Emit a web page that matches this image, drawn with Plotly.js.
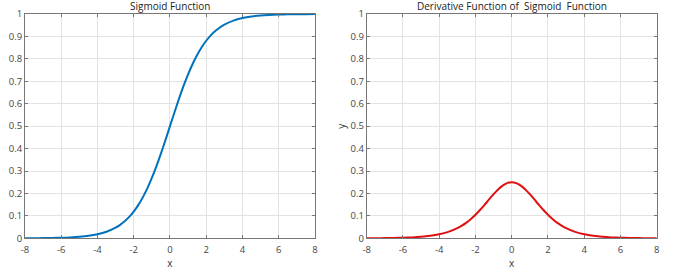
<!DOCTYPE html>
<html>
<head>
<meta charset="utf-8">
<script src="https://cdn.plot.ly/plotly-3.0.1.min.js"></script>
<style>html,body{margin:0;padding:0;background:#fff;}#chart{width:673px;height:274px;}</style>
</head>
<body>
<div id="chart"></div>
<script>
const xValues = [-8,-7.5,-7,-6.5,-6,-5.5,-5,-4.5,-4,-3.5,-3,-2.75,-2.5,-2.25,-2,-1.75,-1.5,-1.25,-1,-0.75,-0.5,-0.25,0,0.25,0.5,0.75,1,1.25,1.5,1.75,2,2.25,2.5,2.75,3,3.5,4,4.5,5,5.5,6,6.5,7,7.5,8];
const sigmoidValues = [0.0003,0.0006,0.0009,0.0015,0.0025,0.0041,0.0067,0.0110,0.0180,0.0293,0.0474,0.0601,0.0759,0.0953,0.1192,0.1480,0.1824,0.2227,0.2689,0.3208,0.3775,0.4378,0.5,0.5622,0.6225,0.6792,0.7311,0.7773,0.8176,0.8520,0.8808,0.9047,0.9241,0.9399,0.9526,0.9707,0.9820,0.9890,0.9933,0.9959,0.9975,0.9985,0.9991,0.9994,0.9997];
const derivativeValues = [0.0003,0.0006,0.0009,0.0015,0.0025,0.0041,0.0066,0.0109,0.0177,0.0285,0.0452,0.0565,0.0701,0.0862,0.1050,0.1261,0.1491,0.1731,0.1966,0.2179,0.2350,0.2461,0.25,0.2461,0.2350,0.2179,0.1966,0.1731,0.1491,0.1261,0.1050,0.0862,0.0701,0.0565,0.0452,0.0285,0.0177,0.0109,0.0066,0.0041,0.0025,0.0015,0.0009,0.0006,0.0003];
const xTicks = [-8,-6,-4,-2,0,2,4,6,8];
const yTicks = [0,0.1,0.2,0.3,0.4,0.5,0.6,0.7,0.8,0.9,1];
const yTickText = ['0','0.1','0.2','0.3','0.4','0.5','0.6','0.7','0.8','0.9','1'];
const titles = ['Sigmoid Function', 'Derivative Function of  Sigmoid  Function'];

const fontFam = 'Open Sans, sans-serif';
function xax(domain, anchor){
  return {domain: domain, anchor: anchor, range:[-8,8], tickvals:xTicks, ticktext:xTicks.map(String),
    showline:true, mirror:'ticks', linecolor:'#777', linewidth:1, ticks:'inside', ticklen:3, tickcolor:'#777',
    showgrid:true, gridcolor:'#e3e3e3', zeroline:false, tickfont:{family:fontFam,size:9.5,color:'#444'},
    ticklabelstandoff:2,
    title:{text:'x', font:{family:fontFam,size:10,color:'#333'}, standoff:3}};
}
function yax(anchor, withTitle){
  const a = {domain:[0.1303,0.9489], anchor: anchor, range:[0,1], tickvals:yTicks, ticktext:yTickText,
    showline:true, mirror:'ticks', linecolor:'#777', linewidth:1, ticks:'inside', ticklen:3, tickcolor:'#777',
    showgrid:true, gridcolor:'#e3e3e3', zeroline:false, tickfont:{family:fontFam,size:9.5,color:'#444'}};
  if (withTitle) a.title = {text:'y', font:{family:fontFam,size:10,color:'#333'}, standoff:2};
  return a;
}
const data = [
  {x:xValues, y:sigmoidValues, type:'scatter', mode:'lines', line:{color:'#0072BD', width:2, shape:'spline', smoothing:0.8}, xaxis:'x', yaxis:'y', hoverinfo:'none'},
  {x:xValues, y:derivativeValues, type:'scatter', mode:'lines', line:{color:'#E01010', width:2, shape:'spline', smoothing:0.8}, xaxis:'x2', yaxis:'y2', hoverinfo:'none'}
];
const layout = {
  width:673, height:274, margin:{l:0,r:0,t:0,b:0}, showlegend:false,
  paper_bgcolor:'#fff', plot_bgcolor:'#fff',
  xaxis: xax([0.0371,0.468],'y'),
  yaxis: yax('x', false),
  xaxis2: xax([0.5449,0.9758],'y2'),
  yaxis2: yax('x2', true),
  annotations: [
    {text:titles[0], xref:'paper', yref:'paper', x:(0.0371+0.468)/2, y:1-6/274, xanchor:'center', yanchor:'middle', showarrow:false, font:{family:fontFam,size:10,color:'#222'}},
    {text:titles[1], xref:'paper', yref:'paper', x:(0.5449+0.9758)/2, y:1-6/274, xanchor:'center', yanchor:'middle', showarrow:false, font:{family:fontFam,size:10,color:'#222'}}
  ]
};
Plotly.newPlot('chart', data, layout, {staticPlot:true, displayModeBar:false});
</script>
</body>
</html>
